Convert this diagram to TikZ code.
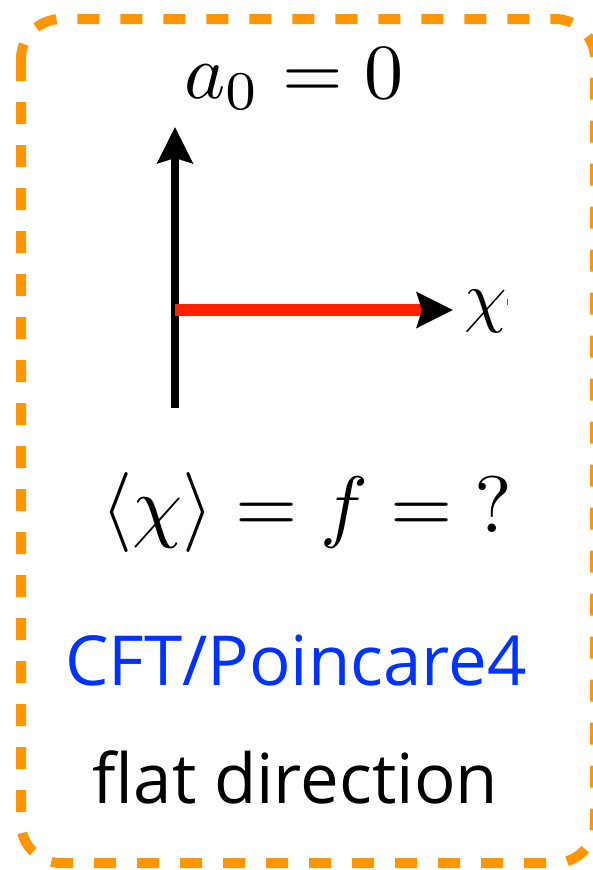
\documentclass[tikz,border=0pt]{standalone}
\usepackage{amsmath}
\usepackage{fontspec}
\newfontfamily\labelfont{Open Sans}
\usetikzlibrary{arrows.meta}
\definecolor{boxorange}{RGB}{255,150,0}
\definecolor{cftblue}{RGB}{0,51,255}
\definecolor{fieldred}{RGB}{255,34,0}

\begin{document}
\begin{tikzpicture}[x=1pt, y=-1pt, >={Stealth[length=36pt, width=35pt, inset=5pt]}]
        \useasboundingbox (0,0) rectangle (593,870);

        % Rahmen
        \draw[boxorange, line width=10pt, dash pattern=on 22pt off 21pt, rounded corners=40pt]
            (21,19) rectangle (595,863);

        % Achsen
        \coordinate (origin) at (175,310);
        \coordinate (ybottom) at (175,408);
        \coordinate (ytip) at (175,127);
        \coordinate (xtip) at (453,310);
        \draw[line width=8pt, ->] (ybottom) -- (ytip);
        \draw[fieldred, line width=12pt, -{Stealth[black, length=36pt, width=35pt, inset=5pt]}] (origin) -- (xtip);

        % Beschriftungen
        \node[anchor=base, inner sep=0pt, scale=7.8] (title) at (294,98) {$a_0 = 0$};
        \node[anchor=base west, inner sep=0pt, scale=6.8] (chilabel) at (463,319) {$\chi$};
        \fill[black!60] (506.5,299) rectangle (508,305);
        \node[anchor=base, inner sep=0pt, scale=8] (vev) at (307,532) {$\langle\chi\rangle = f = {?}$};

        % Texte unten
        \node[anchor=base, inner sep=0pt, text=cftblue] (cft) at (296,685) {\labelfont\fontsize{69}{80}\selectfont CFT/Poincare4};
        \node[anchor=base, inner sep=0pt] (flat) at (295.5,803) {\labelfont\fontsize{69}{80}\selectfont flat direction};

    \end{tikzpicture}
\end{document}
